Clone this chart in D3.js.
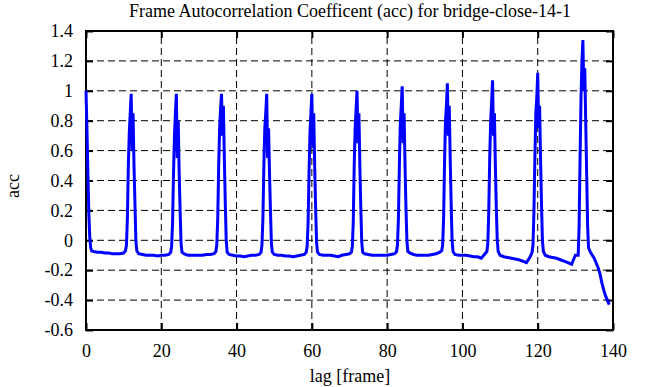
<!DOCTYPE html>
<html>
<head>
<meta charset="utf-8">
<script src="https://cdn.jsdelivr.net/npm/d3@7"></script>
<style>
  body { margin: 0; background: #fff; }
  svg text { font-family: "Liberation Serif", "DejaVu Serif", serif; fill: #000; }
</style>
</head>
<body>
<div id="plot"></div>
<script>
// acc values, lag in frames
const lags = [
  0, 0.25, 0.5, 0.75, 1, 1.25, 1.5,
  2, 3, 4, 5, 6, 7, 8, 9, 10, 10.5,
  10.75, 11, 11.25, 11.5, 11.75, 12, 12.25, 12.5, 12.75, 13, 13.25, 13.5,
  14, 15, 16, 17, 18, 19, 20, 21, 22, 22.5,
  22.75, 23, 23.25, 23.5, 23.75, 24, 24.25, 24.5, 24.75, 25, 25.25, 25.5,
  26, 27, 28, 29, 30, 31, 32, 33, 34, 34.5,
  34.75, 35, 35.25, 35.5, 35.75, 36, 36.25, 36.5, 36.75, 37, 37.25, 37.5,
  38, 39, 40, 41, 42, 43, 44, 45, 46, 46.5,
  46.75, 47, 47.25, 47.5, 47.75, 48, 48.25, 48.5, 48.75, 49, 49.25, 49.5,
  50, 51, 52, 53, 54, 55, 56, 57, 58, 58.5,
  58.75, 59, 59.25, 59.5, 59.75, 60, 60.25, 60.5, 60.75, 61, 61.25, 61.5,
  62, 63, 64, 65, 66, 67, 68, 69, 70, 70.5,
  70.75, 71, 71.25, 71.5, 71.75, 72, 72.25, 72.5, 72.75, 73, 73.25, 73.5,
  74, 75, 76, 77, 78, 79, 80, 81, 82, 82.5,
  82.75, 83, 83.25, 83.5, 83.75, 84, 84.25, 84.5, 84.75, 85, 85.25, 85.5,
  86, 87, 88, 89, 90, 91, 92, 93, 94, 94.5,
  94.75, 95, 95.25, 95.5, 95.75, 96, 96.25, 96.5, 96.75, 97, 97.25, 97.5,
  98, 99, 100, 101, 102, 103, 104, 105, 106, 106.5,
  106.75, 107, 107.25, 107.5, 107.75, 108, 108.25, 108.5, 108.75, 109, 109.25, 109.5,
  110, 111, 112, 113, 114, 115, 116, 117, 118, 118.5,
  118.75, 119, 119.25, 119.5, 119.75, 120, 120.25, 120.5, 120.75, 121, 121.25, 121.5,
  122, 123, 124, 125, 126, 127, 128, 129, 129.5, 130, 130.75,
  131, 131.25, 131.5, 131.75, 132, 132.25, 132.5, 132.75, 133, 133.25, 133.5,
  134, 134.5, 135, 135.5, 136, 136.5, 137, 137.5, 138, 138.5, 139
];
const acc = [
  1.00, 0.75, 0.45, 0.18, 0.02, -0.05, -0.07,
  -0.075, -0.08, -0.08, -0.085, -0.085, -0.09, -0.09, -0.09, -0.085, -0.07,
  -0.03, 0.15, 0.5, 0.72, 0.85, 0.98, 0.6, 0.85, 0.5, 0.25, 0.0, -0.07,
  -0.09, -0.095, -0.1, -0.1, -0.1, -0.105, -0.1, -0.1, -0.095, -0.08,
  -0.04, 0.12, 0.45, 0.7, 0.85, 0.98, 0.55, 0.8, 0.45, 0.2, -0.02, -0.08,
  -0.09, -0.1, -0.1, -0.1, -0.1, -0.1, -0.095, -0.095, -0.09, -0.075,
  -0.03, 0.15, 0.5, 0.75, 0.88, 0.98, 0.7, 0.9, 0.55, 0.25, 0.0, -0.08,
  -0.095, -0.1, -0.105, -0.105, -0.11, -0.105, -0.1, -0.1, -0.095, -0.08,
  -0.03, 0.15, 0.5, 0.75, 0.85, 0.98, 0.55, 0.75, 0.45, 0.2, -0.02, -0.08,
  -0.095, -0.1, -0.1, -0.105, -0.105, -0.11, -0.105, -0.1, -0.095, -0.08,
  -0.04, 0.12, 0.45, 0.72, 0.85, 0.98, 0.62, 0.85, 0.5, 0.22, -0.01, -0.08,
  -0.095, -0.1, -0.1, -0.1, -0.105, -0.11, -0.1, -0.095, -0.09, -0.08,
  -0.04, 0.12, 0.5, 0.75, 0.88, 1.0, 0.65, 0.85, 0.5, 0.22, -0.01, -0.08,
  -0.09, -0.095, -0.1, -0.1, -0.1, -0.1, -0.1, -0.095, -0.09, -0.075,
  -0.03, 0.15, 0.5, 0.78, 0.9, 1.03, 0.65, 0.85, 0.5, 0.22, 0.0, -0.075,
  -0.085, -0.095, -0.1, -0.1, -0.1, -0.1, -0.095, -0.09, -0.08, -0.07,
  -0.03, 0.15, 0.52, 0.8, 0.9, 1.05, 0.7, 0.9, 0.55, 0.25, 0.0, -0.075,
  -0.095, -0.1, -0.1, -0.1, -0.105, -0.11, -0.11, -0.12, -0.09, -0.075,
  -0.02, 0.2, 0.55, 0.8, 0.92, 1.07, 0.7, 0.85, 0.5, 0.22, 0.0, -0.075,
  -0.1, -0.11, -0.115, -0.12, -0.125, -0.13, -0.14, -0.15, -0.11, -0.08,
  -0.03, 0.2, 0.55, 0.85, 0.95, 1.12, 0.75, 0.9, 0.55, 0.25, 0.0, -0.075,
  -0.1, -0.11, -0.115, -0.12, -0.13, -0.14, -0.15, -0.16, -0.13, -0.1, -0.1,
  0.1, 0.55, 0.95, 1.2, 1.34, 1.0, 1.15, 0.8, 0.45, 0.1, -0.05,
  -0.08, -0.1, -0.12, -0.15, -0.18, -0.22, -0.28, -0.33, -0.37, -0.4, -0.43
];
const xTicks = [0, 20, 40, 60, 80, 100, 120, 140];
const yTicks = [-0.6, -0.4, -0.2, 0, 0.2, 0.4, 0.6, 0.8, 1, 1.2, 1.4];

const width = 661, height = 387;
const margin = { left: 86, right: 48, top: 31, bottom: 57 };
const innerW = width - margin.left - margin.right,
      innerH = height - margin.top - margin.bottom;
const serif = '"Liberation Serif", "DejaVu Serif", serif';

const svg = d3.select("#plot").append("svg")
    .attr("width", width)
    .attr("height", height);

const x = d3.scaleLinear().domain([0, 140]).range([margin.left, margin.left + innerW]);
const y = d3.scaleLinear().domain([-0.6, 1.4]).range([margin.top + innerH, margin.top]);

// dashed grid
svg.append("g").selectAll("line")
  .data(xTicks.slice(1, -1))
  .enter().append("line")
    .attr("x1", d => x(d)).attr("x2", d => x(d))
    .attr("y1", y(-0.6)).attr("y2", y(1.4))
    .attr("stroke", "#000").attr("stroke-width", 1)
    .attr("stroke-dasharray", "7,4");

svg.append("g").selectAll("line")
  .data(yTicks.slice(1, -1))
  .enter().append("line")
    .attr("y1", d => y(d)).attr("y2", d => y(d))
    .attr("x1", x(0)).attr("x2", x(140))
    .attr("stroke", "#000").attr("stroke-width", 1)
    .attr("stroke-dasharray", "7,4");

// axes, ticks drawn inward on all four sides
const tickLen = 7;
svg.append("g")
    .attr("transform", "translate(0," + y(-0.6) + ")")
    .call(d3.axisBottom(x).tickValues(xTicks).tickSize(-tickLen).tickPadding(14).tickFormat(d3.format("d")));
svg.append("g")
    .attr("transform", "translate(0," + y(1.4) + ")")
    .call(d3.axisTop(x).tickValues(xTicks).tickSize(-tickLen).tickFormat(""));
svg.append("g")
    .attr("transform", "translate(" + x(0) + ",0)")
    .call(d3.axisLeft(y).tickValues(yTicks).tickSize(-tickLen).tickPadding(13).tickFormat(d => String(+d.toFixed(1))));
svg.append("g")
    .attr("transform", "translate(" + x(140) + ",0)")
    .call(d3.axisRight(y).tickValues(yTicks).tickSize(-tickLen).tickFormat(""));

svg.selectAll("g").attr("font-family", serif);
svg.selectAll(".domain").remove();
svg.selectAll(".tick line").attr("stroke", "#000").attr("stroke-width", 2);
svg.selectAll(".tick text")
    .attr("font-family", serif)
    .style("font-family", serif)
    .style("font-size", "18px");

// frame
svg.append("rect")
    .attr("x", x(0)).attr("y", y(1.4))
    .attr("width", innerW).attr("height", innerH)
    .attr("fill", "none").attr("stroke", "#000").attr("stroke-width", 2);

// data line
const line = d3.line()
  .x((d, i) => x(lags[i]))
  .y(d => y(d));

svg.append("path")
    .datum(acc)
    .attr("fill", "none")
    .attr("stroke", "#0000ff")
    .attr("stroke-width", 3)
    .attr("d", line);

// labels
svg.append("text")
    .attr("x", 350).attr("y", 17)
    .attr("text-anchor", "middle")
    .style("font-family", serif)
    .style("font-size", "18px")
    .text("Frame Autocorrelation Coefficent (acc) for bridge-close-14-1");

svg.append("text")
    .attr("x", 350).attr("y", 382)
    .attr("text-anchor", "middle")
    .style("font-family", serif)
    .style("font-size", "18px")
    .text("lag [frame]");

svg.append("text")
    .attr("transform", "translate(19,186) rotate(-90)")
    .attr("text-anchor", "middle")
    .style("font-family", serif)
    .style("font-size", "18px")
    .text("acc");
</script>
</body>
</html>
